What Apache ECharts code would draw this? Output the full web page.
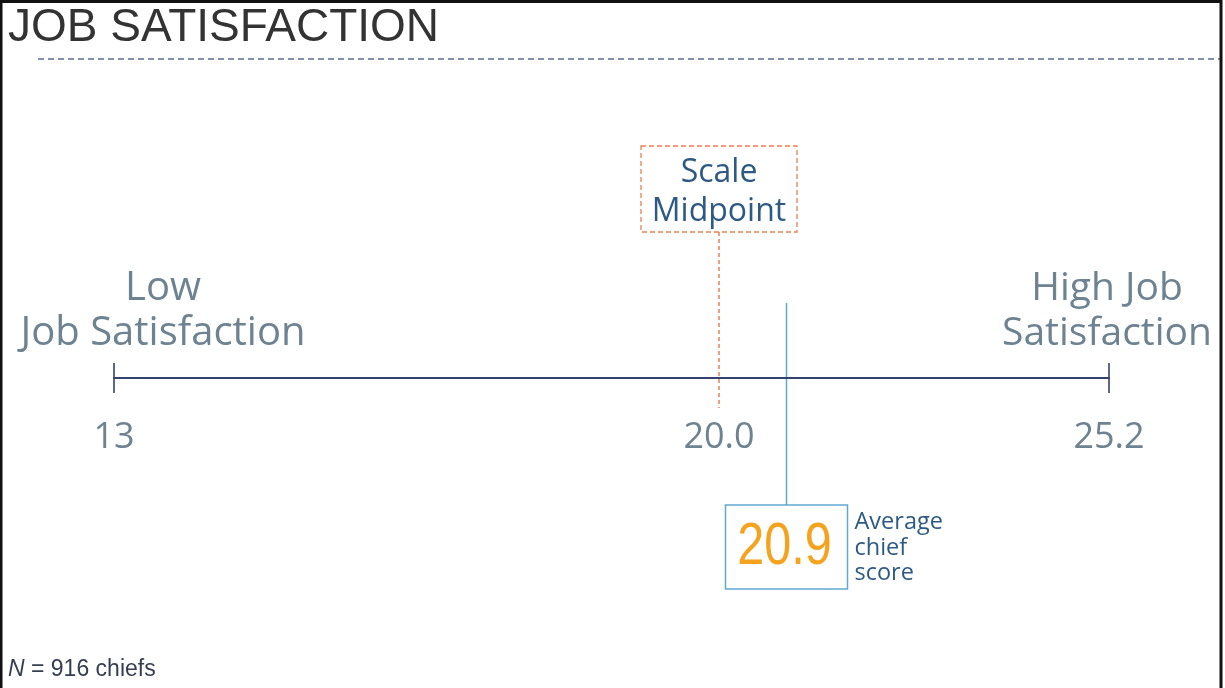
<!DOCTYPE html>
<html>
<head>
<meta charset="utf-8">
<script src="https://cdn.jsdelivr.net/npm/echarts@6/dist/echarts.min.js"></script>
<style>
html,body{margin:0;padding:0;background:#fff;}
#c{width:1225px;height:688px;}
</style>
</head>
<body>
<div id="c"></div>
<script>
// ---- data ----
const tickValues = [13, 20.0, 25.2];
const tickLabels = ['13', '20.0', '25.2'];
const scaleEndNames = ['Low\nJob Satisfaction', 'High Job\nSatisfaction'];
const midpointValue = 20.0;
const midpointName = 'Scale\nMidpoint';
const averageScore = 20.9;
const averageName = 'Average\nchief\nscore';
const titleText = 'JOB SATISFACTION';
const sampleSize = 916;

// ---- styles ----
const AXIS_COLOR = '#34426e';
const LABEL_COLOR = '#6e8392';
const DARK_BLUE = '#2d5a85';
const ORANGE_LINE = '#e8824f';
const LIGHT_BLUE = '#5fa9d0';
const ORANGE_TEXT = '#f5a31e';
const GOTHIC = "'Open Sans', 'Lato', sans-serif";
const SANS = "'Liberation Sans', Arial, sans-serif";

function labelFor(allowed) {
  return function (v) {
    for (let i = 0; i < tickValues.length; i++) {
      if (Math.abs(tickValues[i] - v) < 1e-6 && allowed.indexOf(i) >= 0) return tickLabels[i];
    }
    return '';
  };
}

const chart = echarts.init(document.getElementById('c'), null, {renderer: 'canvas'});

const axisCommon = {
  type: 'value',
  position: 'bottom',
  splitLine: {show: false},
  axisTick: {show: false},
  axisLine: {show: true, onZero: false, lineStyle: {color: AXIS_COLOR, width: 2}},
  axisLabel: {
    margin: 42, color: LABEL_COLOR, fontSize: 36, fontFamily: GOTHIC,
    showMinLabel: true, showMaxLabel: true
  }
};

// the picture's scale is not drawn to proportion: two linked segments (low end -> midpoint, midpoint -> high end)
const option = {
  animation: false,
  backgroundColor: '#ffffff',
  grid: [
    {left: 114, width: 605, top: 222, height: 156},
    {left: 719, width: 390, top: 222, height: 156}
  ],
  xAxis: [
    Object.assign({}, axisCommon, {gridIndex: 0, min: tickValues[0], max: tickValues[1], interval: tickValues[1] - tickValues[0],
      axisLabel: Object.assign({}, axisCommon.axisLabel, {formatter: labelFor([0])})}),
    Object.assign({}, axisCommon, {gridIndex: 1, min: tickValues[1], max: tickValues[2],
      axisLabel: Object.assign({}, axisCommon.axisLabel, {formatter: labelFor([1, 2])})})
  ],
  yAxis: [
    {gridIndex: 0, type: 'value', min: 0, max: 1, show: false},
    {gridIndex: 1, type: 'value', min: 0, max: 1, show: false}
  ],
  series: [
    {type: 'scatter', xAxisIndex: 0, yAxisIndex: 0, symbol: 'rect', symbolSize: [2, 30], clip: false,
      itemStyle: {color: AXIS_COLOR}, data: [[tickValues[0], 0]], silent: true},
    {type: 'scatter', xAxisIndex: 1, yAxisIndex: 1, symbol: 'rect', symbolSize: [2, 30], clip: false,
      itemStyle: {color: AXIS_COLOR}, data: [[tickValues[2], 0]], silent: true}
  ]
};
chart.setOption(option);

const midX = chart.convertToPixel({xAxisIndex: 1}, midpointValue);
const avgX = chart.convertToPixel({xAxisIndex: 1}, averageScore);
const lowX = chart.convertToPixel({xAxisIndex: 0}, tickValues[0]);
const highX = chart.convertToPixel({xAxisIndex: 1}, tickValues[2]);

chart.setOption({
  graphic: [
    // frame
    {type: 'rect', shape: {x: 1, y: 1.5, width: 1220, height: 720}, style: {fill: 'none', stroke: '#111', lineWidth: 3}, z: 10},
    // title
    {type: 'text', x: 8, y: 28, style: {text: titleText, fill: '#333333', fontSize: 46, fontFamily: SANS, textVerticalAlign: 'middle'}},
    {type: 'line', shape: {x1: 38, y1: 59, x2: 1221, y2: 59}, style: {stroke: '#5a6d99', lineWidth: 1.5, lineDash: [6, 4]}},
    // end names
    {type: 'text', x: lowX + 49, y: 311, style: {text: scaleEndNames[0], fill: LABEL_COLOR, fontSize: 40, fontFamily: GOTHIC, textAlign: 'center', textVerticalAlign: 'middle', lineHeight: 45}},
    {type: 'text', x: highX - 2, y: 311, style: {text: scaleEndNames[1], fill: LABEL_COLOR, fontSize: 39, fontFamily: GOTHIC, textAlign: 'center', textVerticalAlign: 'middle', lineHeight: 45}},
    // midpoint
    {type: 'rect', shape: {x: midX - 78, y: 146, width: 156, height: 86}, style: {fill: 'none', stroke: ORANGE_LINE, lineWidth: 1.3, lineDash: [5, 3]}},
    {type: 'text', x: midX, y: 192, style: {text: midpointName, fill: DARK_BLUE, fontSize: 32, fontFamily: GOTHIC, textAlign: 'center', textVerticalAlign: 'middle', lineHeight: 39}},
    {type: 'line', shape: {x1: midX, y1: 232, x2: midX, y2: 408}, style: {stroke: ORANGE_LINE, lineWidth: 1.5, lineDash: [4, 3]}},
    // average
    {type: 'line', shape: {x1: avgX, y1: 303, x2: avgX, y2: 505}, style: {stroke: LIGHT_BLUE, lineWidth: 1.5}},
    {type: 'rect', shape: {x: avgX - 61, y: 505, width: 122, height: 84}, style: {fill: '#fff', stroke: LIGHT_BLUE, lineWidth: 1.5}},
    {type: 'text', x: avgX - 2, y: 547, scaleX: 0.81, style: {text: averageScore.toFixed(1), fill: ORANGE_TEXT, fontSize: 60, fontFamily: SANS, textAlign: 'center', textVerticalAlign: 'middle'}},
    {type: 'text', x: avgX + 68, y: 548, style: {text: averageName, fill: DARK_BLUE, fontSize: 23.5, fontFamily: GOTHIC, textAlign: 'left', textVerticalAlign: 'middle', lineHeight: 25.5}},
    // footer
    {type: 'text', x: 8, y: 670, style: {
      text: '{i|N} = ' + sampleSize + ' chiefs', fill: '#363e52', fontSize: 23, fontFamily: SANS, textVerticalAlign: 'middle',
      rich: {i: {fontStyle: 'italic', fontSize: 23, fontFamily: SANS, fill: '#363e52'}}
    }}
  ]
});
</script>
</body>
</html>
